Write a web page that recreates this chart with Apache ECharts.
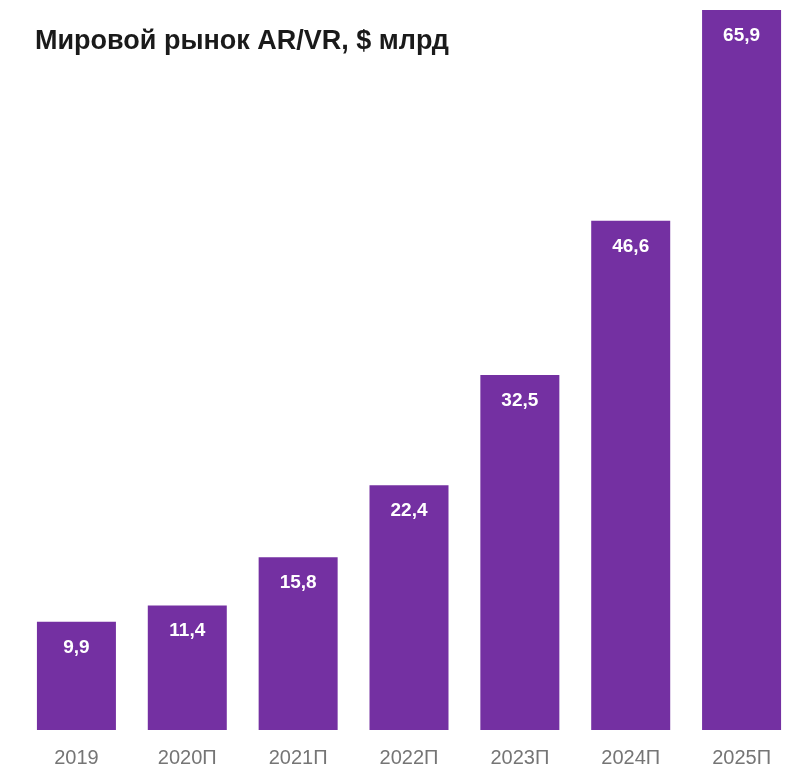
<!DOCTYPE html>
<html><head><meta charset="utf-8">
<script src="https://cdn.jsdelivr.net/npm/echarts@6/dist/echarts.min.js"></script>
<style>html,body{margin:0;padding:0;background:#fff}#c{width:804px;height:769px}</style>
</head><body><div id="c"></div>
<script>
const categories = ['2019','2020П','2021П','2022П','2023П','2024П','2025П'];
const values = [9.9, 11.4, 15.8, 22.4, 32.5, 46.6, 65.9];
const titleText = 'Мировой рынок AR/VR, $ млрд';

const chart = echarts.init(document.getElementById('c'));
chart.setOption({
  backgroundColor: '#fff',
  animation: false,
  title: {
    text: titleText, left: 30, top: 23,
    textStyle: {fontFamily: 'Liberation Sans, Arial, sans-serif', fontWeight: 'bold', fontSize: 27, color: '#1a1a1a'}
  },
  grid: {left: 21, right: 7, top: 10, bottom: 39},
  xAxis: {
    type: 'category', data: categories,
    axisLine: {show: false}, axisTick: {show: false},
    axisLabel: {margin: 18, fontSize: 20, color: '#757575', fontFamily: 'Liberation Sans, Arial, sans-serif'}
  },
  yAxis: {type: 'value', min: 0, max: 65.9, show: false, splitLine: {show: false}},
  series: [{
    type: 'bar', data: values, barWidth: 79,
    itemStyle: {color: '#7430A2'},
    label: {
      show: true, position: 'insideTop', distance: 16,
      color: '#fff', fontWeight: 'bold', fontSize: 19,
      fontFamily: 'Liberation Sans, Arial, sans-serif',
      formatter: p => String(p.value).replace('.', ',')
    }
  }]
});
</script></body></html>
